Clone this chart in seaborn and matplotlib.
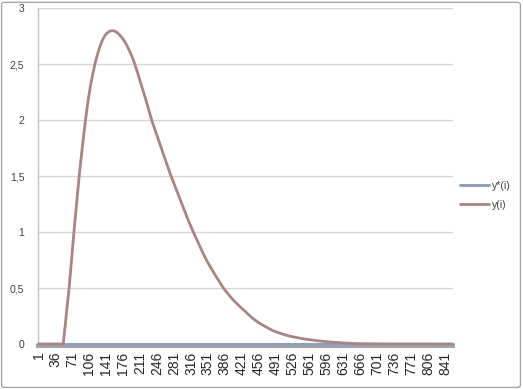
import matplotlib
matplotlib.use("Agg")
import matplotlib.pyplot as plt
import seaborn as sns
import pandas as pd
from matplotlib.patches import FancyBboxPatch

# Data (category index i -> value)
i_vals = [1, 52, 56, 60, 64, 69, 74, 80, 85, 91, 98, 103, 108, 113, 118, 123, 128,
          133, 138, 143, 148, 153, 158, 163, 168, 173, 178, 184, 190, 195, 200,
          206, 212, 218, 224, 230, 235, 242, 250, 258, 266, 275, 284, 293, 302,
          311, 321, 330, 339, 348, 357, 366, 375, 383, 392, 400, 408, 417, 426,
          435, 443, 452, 461, 470, 478, 486, 495, 503, 511, 520, 529, 538, 546,
          555, 564, 572, 580, 589, 598, 606, 615, 624, 632, 641, 650, 658, 680,
          700, 857]
y_vals = [0.0, 0.0, 0.16, 0.33, 0.49, 0.74, 0.99, 1.27, 1.5, 1.74, 2.0, 2.16, 2.30,
          2.41, 2.51, 2.59, 2.66, 2.715, 2.755, 2.78, 2.795, 2.80, 2.797, 2.785,
          2.765, 2.74, 2.71, 2.665, 2.61, 2.56, 2.5, 2.42, 2.335, 2.25, 2.165,
          2.075, 2.0, 1.91, 1.81, 1.71, 1.61, 1.5, 1.40, 1.30, 1.20, 1.10, 1.0,
          0.915, 0.83, 0.75, 0.683, 0.617, 0.556, 0.5, 0.452, 0.41, 0.373, 0.335,
          0.3, 0.263, 0.232, 0.203, 0.177, 0.155, 0.136, 0.119, 0.104, 0.092,
          0.081, 0.071, 0.062, 0.055, 0.048, 0.042, 0.037, 0.032, 0.028, 0.024,
          0.020, 0.017, 0.014, 0.012, 0.009, 0.007, 0.005, 0.003, 0.002, 0.001,
          0.0]
ystar_vals = [0.0] * len(i_vals)

n_categories = 857
xtick_labels = list(range(1, 842, 35))
ytick_vals = [0, 0.5, 1, 1.5, 2, 2.5, 3]
ytick_labels = ["0", "0,5", "1", "1,5", "2", "2,5", "3"]

sns.set_style("white")
plt.rcParams["font.family"] = ["Liberation Sans", "DejaVu Sans"]

df_star = pd.DataFrame({"i": i_vals, "v": ystar_vals})
df_y = pd.DataFrame({"i": i_vals, "v": y_vals})

fig = plt.figure(figsize=(5.23, 3.89), dpi=100)
ax = fig.add_axes([0.0732, 0.1157, 0.866 - 0.0732, 0.9787 - 0.1157])

c_star = "#8FA1BA"
c_y = "#A88584"

sns.lineplot(data=df_star, x="i", y="v", ax=ax, color=c_star, linewidth=2.2,
             label="y*(i)", clip_on=False, zorder=3)
sns.lineplot(data=df_y, x="i", y="v", ax=ax, color=c_y, linewidth=2.0,
             label="y(i)", clip_on=False, zorder=4)

ax.set_xlim(0.5, n_categories + 0.5)
ax.set_ylim(0, 3)
ax.set_xticks(xtick_labels)
ax.set_xticklabels([str(t) for t in xtick_labels], fontsize=7.5, color="#404040")
ax.set_yticks(ytick_vals)
ax.set_yticklabels(ytick_labels, fontsize=7.5, color="#404040")
ax.set_xlabel("")
ax.set_ylabel("")

ax.grid(axis="y", color="#D4D4D4", linewidth=0.9)
ax.grid(axis="x", visible=False)
ax.set_axisbelow(True)

for s in ["top", "right"]:
    ax.spines[s].set_visible(False)
ax.spines["left"].set_color("#BFBFBF")
ax.spines["left"].set_linewidth(0.9)
ax.spines["bottom"].set_color("#A6A6A6")
ax.spines["bottom"].set_linewidth(3.0)
ax.spines["bottom"].set_position(("outward", 1.5))
ax.tick_params(axis="y", length=4, width=0.8, color="#BFBFBF", pad=6)
ax.tick_params(axis="x", length=0, pad=4, labelrotation=90)

leg = ax.legend(loc="center left", bbox_to_anchor=(0.995, 0.443), frameon=False,
                fontsize=7.5, handlelength=2.8, handletextpad=0.2,
                labelspacing=0.9)
for t in leg.get_texts():
    t.set_color("#404040")

# outer chart border
fig.patches.append(FancyBboxPatch((0.003, 0.004), 0.992, 0.99,
                                  boxstyle="round,pad=0,rounding_size=0.006",
                                  transform=fig.transFigure, fill=False,
                                  edgecolor="#A0A0A0", linewidth=0.9))

fig.savefig("out.png", dpi=100)
